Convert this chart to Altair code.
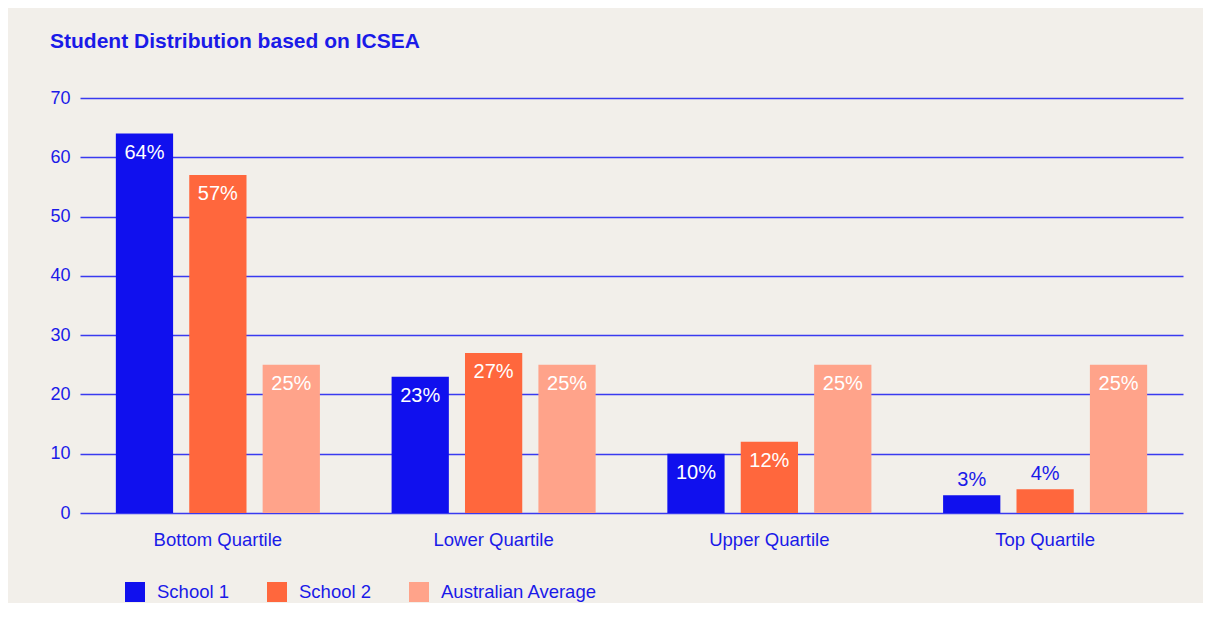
import altair as alt
import pandas as pd

quartiles = ["Bottom Quartile", "Lower Quartile", "Upper Quartile", "Top Quartile"]
series = ["School 1", "School 2", "Australian Average"]
school1 = [64, 23, 10, 3]
school2 = [57, 27, 12, 4]
australian = [25, 25, 25, 25]
colors = ["#1010ee", "#ff673d", "#ffa38a"]

rows = []
for s, vals in zip(series, [school1, school2, australian]):
    for q, v in zip(quartiles, vals):
        rows.append({"quartile": q, "series": s, "value": v, "label": f"{v}%"})
df = pd.DataFrame(rows)

BLUE = "#1a1ae8"
FONT = "Liberation Sans"

x = alt.X("quartile:N", sort=quartiles, title=None,
          scale=alt.Scale(paddingInner=0.26, paddingOuter=0.13),
          axis=alt.Axis(labelAngle=0, labelFontSize=18.5, labelColor=BLUE, labelFont=FONT,
                        ticks=False, domain=False, labelPadding=17))
xo = alt.XOffset("series:N", sort=series, scale=alt.Scale(paddingInner=0.22, paddingOuter=0))
y = alt.Y("value:Q", title=None,
          scale=alt.Scale(domain=[0, 70], nice=False),
          axis=alt.Axis(values=[0, 10, 20, 30, 40, 50, 60, 70], labelFontSize=18, labelColor=BLUE,
                        labelFont=FONT, ticks=False, domain=False, labelPadding=10,
                        gridColor="#3a3af0", gridWidth=1.5, gridOpacity=1))

base = alt.Chart(df).encode(x=x, xOffset=xo)

bars = base.mark_bar().encode(
    y=y,
    color=alt.Color("series:N", sort=series, title=None,
                    scale=alt.Scale(domain=series, range=colors),
                    legend=alt.Legend(orient="none", legendX=45, legendY=484, direction="horizontal",
                                      symbolType="square", symbolSize=400, symbolStrokeWidth=0,
                                      labelFontSize=18.5, labelColor=BLUE, labelFont=FONT,
                                      labelOffset=12, columnPadding=38)),
)

inside = base.transform_filter("datum.value >= 10").mark_text(
    baseline="middle", dy=19, fontSize=20, color="white", font=FONT
).encode(y=alt.Y("value:Q"), text="label:N")

above = base.transform_filter("datum.value < 10").mark_text(
    baseline="middle", dy=-15, fontSize=20, color=BLUE, font=FONT
).encode(y=alt.Y("value:Q"), text="label:N")

chart = alt.layer(bars, inside, above).properties(
    width=1103, height=415,
    padding={"left": 72, "top": 90, "right": 20, "bottom": 90},
    autosize=alt.AutoSizeParams(type="none"),
    background="#f2efea",
    title=alt.TitleParams("Student Distribution based on ICSEA", anchor="start", dx=0, offset=37,
                          fontSize=21, fontWeight="bold", color=BLUE, font=FONT),
).configure_view(stroke=None)

chart.save("out.html", embed_options={"renderer": "svg", "actions": False})
